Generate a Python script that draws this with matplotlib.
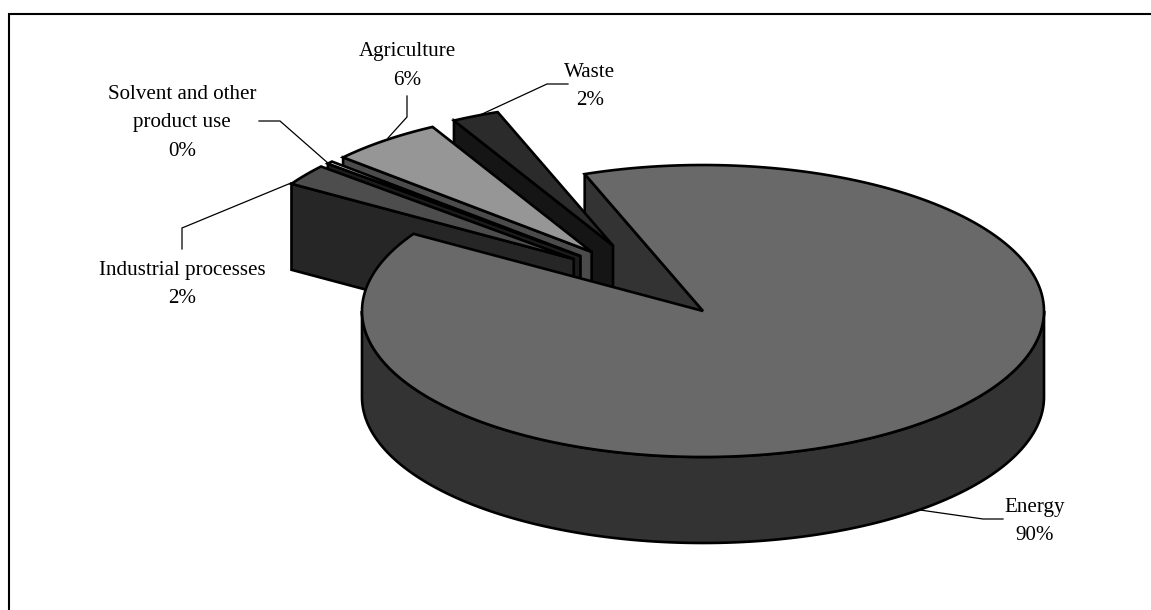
import numpy as np
import matplotlib
matplotlib.use('Agg')
import matplotlib.pyplot as plt
from matplotlib.patches import Polygon

# Greenhouse gas emissions by sector (%)
sectors = ['Energy', 'Industrial processes', 'Solvent and other\nproduct use', 'Agriculture', 'Waste']
shares = [89.5, 2.4, 0.3, 5.5, 2.3]
top_colors = ['#696969', '#4d4d4d', '#f2f2f2', '#969696', '#2b2b2b']
side_colors = ['#333333', '#262626', '#1c1c1c', '#4b4b4b', '#151515']

# Pie geometry in pixels
cx, cy = 703, 311
rx, ry = 341, 146
depth = 86
start_angle = 110.3
explode = 0.52
explode_radius = 0.975
explode_angle = [0, 136.8, 133.7, 128.9, 120.5]  # direction each slice is pulled out

# Leader lines and label anchors
leaders = [
    [(920, 510), (983, 519), (1003, 519)],
    [(291, 183), (182, 228), (182, 249)],
    [(329, 164), (280, 121), (259, 121)],
    [(388, 138), (407, 117), (407, 96)],
    [(480, 115), (547, 84), (568, 84)],
]
label_pos = [(1035, 521.5), (182, 284.5), (182, 123), (407, 66), (590, 86.5)]

fig = plt.figure(figsize=(11.51, 6.10), dpi=100)
ax = fig.add_axes([0, 0, 1, 1])
ax.set_xlim(0, 1151)
ax.set_ylim(610, 0)
ax.axis('off')


def point(ox, oy, r, deg):
    t = np.radians(deg)
    return ox + rx * r * np.cos(t), oy - ry * r * np.sin(t)


def arc(ox, oy, r, a0, a1):
    t = np.radians(np.linspace(a0, a1, 200))
    return np.column_stack([ox + rx * r * np.cos(t), oy - ry * r * np.sin(t)])


def face(pts, color, z):
    ax.add_patch(Polygon(pts, closed=True, facecolor=color, edgecolor='black',
                         linewidth=1.9, joinstyle='miter', zorder=z))


# Clockwise from the start angle
spans = np.array(shares) / sum(shares) * 360
ends = start_angle - np.cumsum(spans)
starts = ends + spans

# Energy stays in place, its cut wall sits behind the other slices
a0, a1 = starts[0], ends[0]
p = point(cx, cy, 1, a0)
face([p, (cx, cy), (cx, cy + depth), (p[0], p[1] + depth)], side_colors[0], 1)

# Back to front so nearer slices cover the walls behind them
z = 2
for i in range(len(shares) - 1, 0, -1):
    ox, oy = point(cx, cy, explode, explode_angle[i])
    left = point(ox, oy, explode_radius, starts[i])
    face([left, (ox, oy), (ox, oy + depth), (left[0], left[1] + depth)], side_colors[i], z)
    top = np.vstack([[(ox, oy)], arc(ox, oy, explode_radius, ends[i], starts[i])])
    face(top, top_colors[i], z + 1)
    z += 2

# Energy front wall and top
front = arc(cx, cy, 1, 180, 360)
wall = np.vstack([front, front[::-1] + [0, depth]])
face(wall, side_colors[0], z)
top = np.vstack([[(cx, cy)], arc(cx, cy, 1, a1, a0)])
face(top, top_colors[0], z + 1)

# Leader lines and labels
for name, share, line, pos in zip(sectors, shares, leaders, label_pos):
    xs, ys = zip(*line)
    ax.plot(xs, ys, color='black', linewidth=0.9, zorder=z + 2, solid_joinstyle='miter')
    ax.text(pos[0], pos[1], f'{name}\n{round(share)}%', ha='center', va='center',
            family='Liberation Serif', fontsize=15.1, color='black', linespacing=1.67,
            zorder=z + 3)

# Frame along the left and top only
ax.plot([9, 9, 1151], [610, 14, 14], color='black', linewidth=1.5,
        solid_joinstyle='miter', zorder=z + 4)

fig.savefig('out.png', dpi=100)
